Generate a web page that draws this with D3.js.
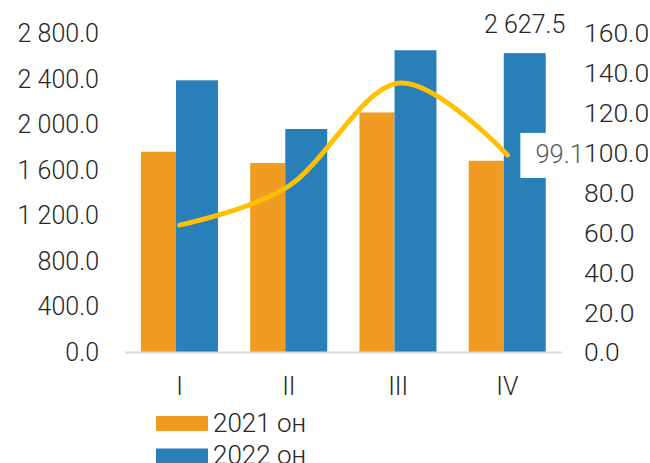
<!DOCTYPE html>
<html>
<head>
<meta charset="utf-8">
<script src="https://cdn.jsdelivr.net/npm/d3@7"></script>
<style>
  body { margin: 0; background: #fff; }
  text { font-family: Roboto, "Noto Sans", sans-serif; font-weight: 300; }
</style>
</head>
<body>
<svg id="chart" width="650" height="463"></svg>
<script>
// data
const quarters = ["I", "II", "III", "IV"];
const values2021 = [1762, 1663, 2107, 1683];
const values2022 = [2389, 1962, 2653, 2627.5];
const lineValues = [63.9, 83.5, 135.1, 99.1];
const leftTicks = [0, 400, 800, 1200, 1600, 2000, 2400, 2800];
const rightTicks = [0, 20, 40, 60, 80, 100, 120, 140, 160];
const seriesNames = ["2021 он", "2022 он"];

const orange = "#F09C22";
const blue = "#2980B9";
const yellow = "#FFC000";

const svg = d3.select("#chart");

const loc = d3.formatLocale({decimal: ".", thousands: " ", grouping: [3]});
const fmt = loc.format(",.1f");

var x = d3.scaleBand()
    .domain(quarters)
    .range([125, 562])
    .padding(0);

var yL = d3.scaleLinear().domain([0, 2800]).range([352.5, 33.5]);
var yR = d3.scaleLinear().domain([0, 160]).range([352.5, 33.5]);

const bw = x.bandwidth();

// bars
svg.selectAll(".bar2021")
    .data(values2021)
    .enter().append("rect")
    .attr("x", (d, i) => x(quarters[i]) + bw * 0.146)
    .attr("width", bw * 0.321)
    .attr("y", d => yL(d))
    .attr("height", d => yL(0) - yL(d))
    .attr("fill", orange);

svg.selectAll(".bar2022")
    .data(values2022)
    .enter().append("rect")
    .attr("x", (d, i) => x(quarters[i]) + bw * 0.467)
    .attr("width", bw * 0.384)
    .attr("y", d => yL(d))
    .attr("height", d => yL(0) - yL(d))
    .attr("fill", blue);

// baseline
svg.append("line")
    .attr("x1", 125).attr("x2", 562)
    .attr("y1", yL(0)).attr("y2", yL(0))
    .attr("stroke", "#d9d9d9")
    .attr("stroke-width", 2);

// left axis
var gl = svg.append("g")
    .attr("transform", "translate(125,0)")
    .call(d3.axisLeft(yL).tickValues(leftTicks).tickSize(0).tickPadding(26).tickFormat(fmt));
gl.select(".domain").remove();

// right axis
var gr = svg.append("g")
    .attr("transform", "translate(562,0)")
    .call(d3.axisRight(yR).tickValues(rightTicks).tickSize(0).tickPadding(22).tickFormat(fmt));
gr.select(".domain").remove();

// category axis
var gb = svg.append("g")
    .attr("transform", "translate(0," + yL(0) + ")")
    .call(d3.axisBottom(x).tickSize(0).tickPadding(25));
gb.select(".domain").remove();

svg.selectAll(".tick text")
    .attr("font-size", 25)
    .attr("fill", "#262626")
    .style("font-family", "Roboto")
    .style("font-weight", 300);
gr.selectAll(".tick text").attr("font-size", 26.5);

// smoothed line on right axis
var line = d3.line()
    .x((d, i) => x(quarters[i]) + bw / 2)
    .y(d => yR(d))
    .curve(d3.curveCardinal.tension(0));

svg.append("path")
    .datum(lineValues)
    .attr("d", line)
    .attr("fill", "none")
    .attr("stroke", yellow)
    .attr("stroke-width", 5)
    .attr("stroke-linecap", "round");

// data labels
const last = quarters.length - 1;
svg.append("text")
    .attr("x", x(quarters[last]) + bw * 0.467 + bw * 0.192)
    .attr("y", yL(values2022[last]) - 20)
    .attr("text-anchor", "middle")
    .attr("font-size", 25)
    .attr("fill", "#262626")
    .text(fmt(values2022[last]));

const px = x(quarters[last]) + bw / 2;
const py = yR(lineValues[last]);
svg.append("rect")
    .attr("x", px + 13)
    .attr("y", py - 22)
    .attr("width", 62)
    .attr("height", 45)
    .attr("fill", "#fff");
svg.append("text")
    .attr("x", px + 28)
    .attr("y", py + 8.5)
    .attr("font-size", 25.5)
    .attr("fill", "#595959")
    .text(lineValues[last].toFixed(1));

// legend
const legend = svg.append("g");
[orange, blue].forEach(function(c, i) {
    legend.append("rect")
        .attr("x", 156).attr("y", 416 + i * 32.5)
        .attr("width", 52).attr("height", 15)
        .attr("fill", c);
    legend.append("text")
        .attr("x", 213).attr("y", 431.5 + i * 32.5)
        .attr("font-size", 26)
        .attr("fill", "#262626")
        .text(seriesNames[i]);
});
</script>
</body>
</html>
